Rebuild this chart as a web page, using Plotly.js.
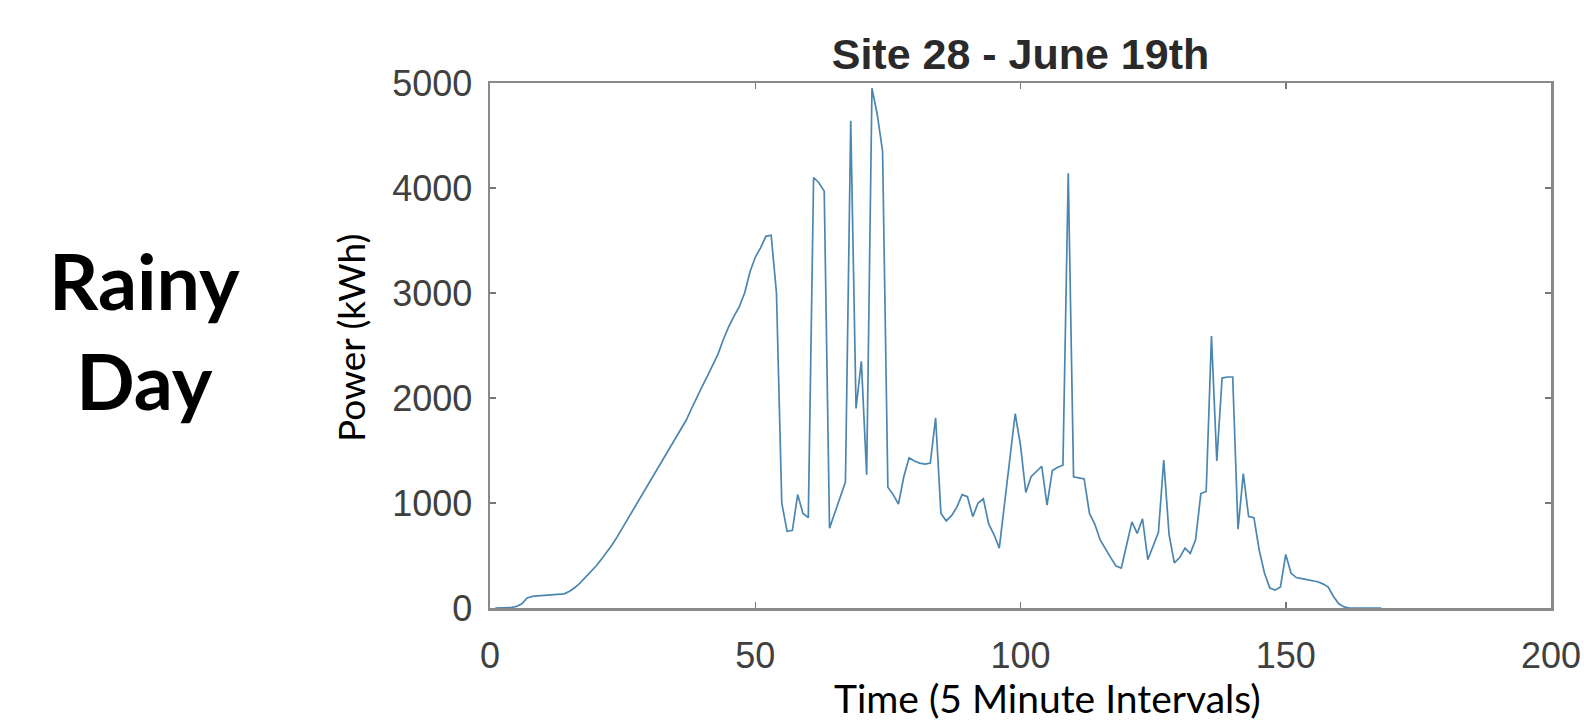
<!DOCTYPE html>
<html>
<head>
<meta charset="utf-8">
<script src="https://cdn.plot.ly/plotly-3.0.1.min.js"></script>
<style>html,body{margin:0;padding:0;background:#fff;}#chart{width:1584px;height:720px;}</style>
</head>
<body>
<div id="chart"></div>
<script>
const timeSteps = [1,2,3,4,5,6,7,8,9,10,11,12,13,14,15,16,17,18,19,20,21,22,23,24,25,26,27,28,29,30,31,32,33,34,35,36,37,38,39,40,41,42,43,44,45,46,47,48,49,50,51,52,53,54,55,56,57,58,59,60,61,62,63,64,65,66,67,68,69,70,71,72,73,74,75,76,77,78,79,80,81,82,83,84,85,86,87,88,89,90,91,92,93,94,95,96,97,98,99,100,101,102,103,104,105,106,107,108,109,110,111,112,113,114,115,116,117,118,119,120,121,122,123,124,125,126,127,128,129,130,131,132,133,134,135,136,137,138,139,140,141,142,143,144,145,146,147,148,149,150,151,152,153,154,155,156,157,158,159,160,161,162,163,164,165,166,167,168];
const power = [0,0,0,5,15,40,95,110,115,118,120,122,125,135,160,195,240,290,345,400,
  465,530,600,680,765,850,935,1020,1105,1190,1275,1360,1445,1530,1615,1700,1790,1900,2010,2110,
  2210,2320,2420,2560,2680,2780,2870,3000,3200,3340,3430,3540,3550,3000,1000,730,740,1080,900,860,
  4100,4050,3970,760,900,1050,1200,4640,1900,2350,1270,4950,4700,4350,1150,1080,990,1250,1430,1400,
  1380,1370,1380,1810,900,830,880,960,1080,1060,870,1000,1040,800,700,570,1000,1400,1850,1550,
  1100,1250,1300,1350,980,1310,1340,1360,4140,1250,1240,1230,900,800,650,560,480,400,380,600,
  820,710,850,460,600,720,1410,700,430,480,570,520,650,1090,1110,2590,1400,2190,2200,2200,
  750,1280,870,860,550,330,190,170,200,510,330,290,280,270,260,250,230,200,110,40,
  10,0,0,0,0,0,0,0];
const xTicks = [0,50,100,150,200];
const yTicks = [0,1000,2000,3000,4000,5000];
const chartTitle = 'Site 28 - June 19th';
const xTitle = 'Time (5 Minute Intervals)';
const yTitle = 'Power (kWh)';
const sideLabel = 'Rainy<br>Day';

const trace = {
  x: timeSteps, y: power, type: 'scatter', mode: 'lines',
  line: {color: '#4a86b0', width: 1.7}, hoverinfo: 'x+y'
};

const axisCommon = {
  showgrid: false, zeroline: false, showline: true, mirror: 'ticks',
  linecolor: '#8a8a8a', linewidth: 2.5, ticks: 'inside', ticklen: 6,
  tickcolor: '#777', tickwidth: 1.5,
  tickfont: {family: 'Liberation Sans, Arial, sans-serif', size: 36, color: '#404040'}
};

const layout = {
  width: 1584, height: 720,
  margin: {l: 490, r: 33, t: 83, b: 112},
  paper_bgcolor: '#fff', plot_bgcolor: '#fff',
  showlegend: false,
  title: {
    text: '<b>' + chartTitle + '</b>',
    font: {family: 'Liberation Sans, Arial, sans-serif', size: 43, color: '#2a2a2a'},
    x: 0.5, xref: 'paper', xanchor: 'center',
    y: 1 - 54/720, yref: 'container', yanchor: 'middle'
  },
  xaxis: Object.assign({}, axisCommon, {
    range: [0, 200], tickvals: xTicks, ticktext: xTicks.map(String), ticklabelstandoff: 14
  }),
  yaxis: Object.assign({}, axisCommon, {
    range: [0, 5000], tickvals: yTicks, ticktext: yTicks.map(String), ticklabelstandoff: 8
  }),
  annotations: [
    {text: sideLabel, xref: 'paper', yref: 'paper', x: (144-490)/1061, y: (608-330)/525,
     xanchor: 'center', yanchor: 'middle', showarrow: false, align: 'center',
     font: {family: 'Lato, sans-serif', size: 77, color: '#000', weight: 'bold'}},
    {text: yTitle, xref: 'paper', yref: 'paper', x: (350-490)/1061, y: (608-338)/525,
     xanchor: 'center', yanchor: 'middle', showarrow: false, textangle: -90,
     font: {family: 'Lato, sans-serif', size: 37, color: '#000'}},
    {text: xTitle, xref: 'paper', yref: 'paper', x: (1047-490)/1061, y: (608-698)/525,
     xanchor: 'center', yanchor: 'middle', showarrow: false,
     font: {family: 'Lato, sans-serif', size: 39, color: '#000'}}
  ]
};

Plotly.newPlot('chart', [trace], layout, {displayModeBar: false, staticPlot: true});
</script>
</body>
</html>
